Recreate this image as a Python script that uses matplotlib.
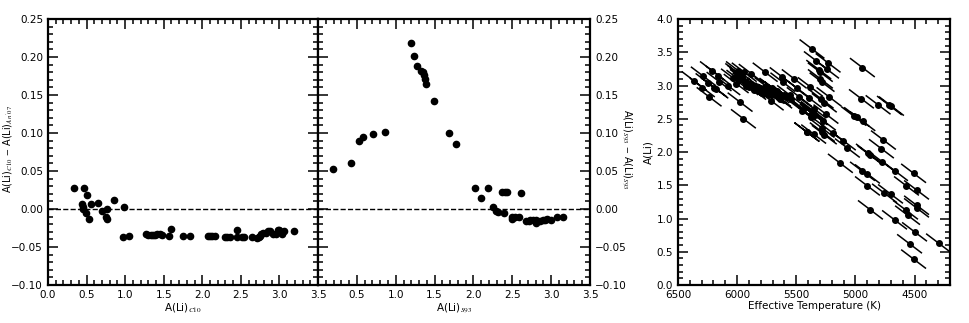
import numpy as np
import matplotlib
matplotlib.use("Agg")
import matplotlib.pyplot as plt
from matplotlib.ticker import MultipleLocator

plt.rcParams['font.family'] = ['DejaVu Sans']
plt.rcParams['mathtext.fontset'] = 'stix'
plt.rcParams['font.size'] = 7.5

# ---- panel 1: A(Li)_C10 vs difference to An'07
c10_x = [0.34, 0.47, 0.51, 0.44, 0.45, 0.45, 0.49, 0.53, 0.56, 0.65, 0.70, 0.75, 0.76,
         0.76, 0.85, 0.99, 0.97, 1.05, 1.27, 1.30, 1.33, 1.36, 1.39, 1.41, 1.45, 1.48,
         1.57, 1.60, 1.75, 1.84, 2.07, 2.10, 2.13, 2.17, 2.29, 2.32, 2.36, 2.45, 2.45,
         2.52, 2.54, 2.64, 2.71, 2.73, 2.75, 2.76, 2.79, 2.82, 2.85, 2.88, 2.92, 2.95,
         2.98, 3.00, 3.03, 3.06, 3.19]
c10_dy = [0.028, 0.028, 0.018, 0.006, 0.003, 0.000, -0.005, -0.013, 0.007, 0.008, -0.002,
          -0.011, -0.013, 0.000, 0.012, 0.002, -0.037, -0.035, -0.033, -0.034, -0.034,
          -0.034, -0.034, -0.033, -0.033, -0.034, -0.035, -0.026, -0.035, -0.035, -0.035,
          -0.036, -0.036, -0.036, -0.037, -0.037, -0.037, -0.027, -0.037, -0.037, -0.037,
          -0.037, -0.038, -0.037, -0.035, -0.033, -0.032, -0.031, -0.029, -0.029, -0.033,
          -0.033, -0.027, -0.027, -0.033, -0.029, -0.029]

# ---- panel 2: A(Li)_S93 vs difference
s93_x = [0.19, 0.43, 0.53, 0.58, 0.71, 0.86, 1.19, 1.24, 1.28, 1.32, 1.35, 1.37, 1.38,
         1.39, 1.49, 1.68, 1.77, 2.02, 2.10, 2.19, 2.37, 2.40, 2.43, 2.61, 2.25, 2.29,
         2.32, 2.39, 2.49, 2.50, 2.53, 2.59, 2.67, 2.71, 2.73, 2.76, 2.80, 2.81, 2.85,
         2.89, 2.92, 2.95, 3.00, 3.07, 3.15]
s93_dy = [0.053, 0.060, 0.090, 0.095, 0.099, 0.101, 0.219, 0.202, 0.188, 0.182, 0.180,
          0.176, 0.171, 0.165, 0.142, 0.100, 0.085, 0.028, 0.015, 0.028, 0.022, 0.022,
          0.022, 0.021, 0.002, -0.002, -0.004, -0.005, -0.011, -0.013, -0.011, -0.011,
          -0.016, -0.016, -0.015, -0.015, -0.018, -0.014, -0.016, -0.015, -0.014, -0.013,
          -0.015, -0.011, -0.011]

# ---- panel 3: Teff vs A(Li)
teff = [6364, 6286, 6294, 6246, 6237, 6209, 6192, 6180, 6158, 6153, 6079, 6031, 6008,
        5995, 5989, 5975, 5985, 5955, 5932, 5926, 5960, 5940, 5910, 5898, 5881, 5975,
        5947, 5870, 5847, 5805, 5763, 5748, 5706, 5720, 5712, 5706, 5663, 5652, 5690,
        5665, 5619, 5613, 5557, 5545, 5517, 5494, 5475, 5441, 5410, 5390, 5381, 5367,
        5353, 5356, 5373, 5365, 5449, 5330, 5297, 5296, 5282, 5231, 5244, 5263, 5223,
        5249, 5271, 5282, 5280, 5263, 5290, 5410, 5187, 5102, 5068, 5127, 5014, 4990,
        4937, 4941, 4949, 4808, 4712, 4695, 4763, 4780, 4890, 4875, 4771, 4940, 4898,
        4661, 4508, 4898, 4568, 4483, 4754, 4703, 4483, 4483, 4873, 4576, 4559, 4669,
        4500, 4542, 4297, 4508, 5880, 5860, 5830, 5790, 5740, 5680, 5640, 5600, 5580,
        5360, 5350, 5340, 5310]
ali = [3.07, 3.14, 2.97, 3.04, 2.83, 3.22, 2.97, 2.95, 3.15, 3.06, 3.00, 3.11, 3.03,
       3.19, 3.22, 3.16, 3.09, 3.10, 3.05, 3.00, 3.13, 3.20, 3.02, 2.98, 3.18, 2.75,
       2.50, 2.96, 2.98, 2.97, 3.20, 2.98, 2.87, 2.88, 2.77, 2.97, 2.88, 2.83, 2.94,
       2.92, 3.13, 3.05, 2.86, 2.79, 3.10, 2.96, 2.83, 2.63, 2.30, 2.81, 2.98, 3.55,
       2.27, 2.62, 2.53, 2.58, 2.62, 3.37, 3.20, 3.10, 3.05, 3.34, 3.25, 2.74, 2.83,
       2.57, 2.47, 2.36, 2.30, 2.26, 2.80, 2.30, 2.28, 2.17, 2.06, 1.83, 2.54, 2.53,
       2.46, 3.27, 2.80, 2.71, 2.70, 2.69, 2.18, 2.05, 1.98, 1.95, 1.85, 1.71, 1.67,
       1.71, 1.68, 1.49, 1.49, 1.43, 1.38, 1.37, 1.20, 1.16, 1.13, 1.13, 1.05, 0.98,
       0.80, 0.62, 0.63, 0.39, 3.02, 2.93, 2.95, 2.92, 2.90, 2.86, 2.80, 2.86, 2.82,
       2.60, 2.65, 2.55, 3.24]
# correlated error: +-100 K goes with +-0.135 dex
err_t = 100
err_a = 0.135

fig = plt.figure(figsize=(9.69, 3.23), dpi=100)
ax1 = fig.add_axes([0.0495, 0.1176, 0.2787, 0.8235])
ax2 = fig.add_axes([0.3282, 0.1176, 0.2807, 0.8235])
ax3 = fig.add_axes([0.6997, 0.1176, 0.2807, 0.8235])


def style(ax):
    for s in ax.spines.values():
        s.set_linewidth(1.6)
    ax.tick_params(which='both', direction='in', top=True, right=True, width=1.1)
    ax.tick_params(which='major', length=7)
    ax.tick_params(which='minor', length=3.5)


ax1.plot(c10_x, c10_dy, 'o', color='black', ms=4.5)
ax1.axhline(0, color='black', ls='--', lw=1)
ax1.set_xlim(0, 3.5)
ax1.set_ylim(-0.10, 0.25)
ax1.xaxis.set_major_locator(MultipleLocator(0.5))
ax1.xaxis.set_minor_locator(MultipleLocator(0.1))
ax1.yaxis.set_major_locator(MultipleLocator(0.05))
ax1.yaxis.set_minor_locator(MultipleLocator(0.01))
ax1.set_xlabel("A(Li)$_{C10}$", labelpad=1)
ax1.set_ylabel("A(Li)$_{C10}$ $-$ A(Li)$_{An'07}$", fontsize=7)
ax1.yaxis.set_label_coords(-0.125, 0.51)
style(ax1)

ax2.plot(s93_x, s93_dy, 'o', color='black', ms=4.5)
ax2.axhline(0, color='black', ls='--', lw=1)
ax2.set_xlim(0, 3.5)
ax2.set_ylim(-0.10, 0.25)
ax2.xaxis.set_major_locator(MultipleLocator(0.5))
ax2.xaxis.set_minor_locator(MultipleLocator(0.1))
ax2.yaxis.set_major_locator(MultipleLocator(0.05))
ax2.yaxis.set_minor_locator(MultipleLocator(0.01))
style(ax2)
ax2.tick_params(labelleft=False, labelright=True)
ax2.set_xticks([0.5, 1.0, 1.5, 2.0, 2.5, 3.0, 3.5])
ax2.set_xlabel("A(Li)$_{S93}$", labelpad=1)
ax2.yaxis.set_label_position('right')
ax2.set_ylabel("A(Li)$_{S93}$ $-$ A(Li)$_{S93}$", rotation=270, fontsize=7)
ax2.yaxis.set_label_coords(1.16, 0.51)

# correlated error bars as slanted segments
seg_x = []
seg_y = []
for t, a in zip(teff, ali):
    seg_x += [t + err_t, t - err_t, np.nan]
    seg_y += [a + err_a, a - err_a, np.nan]
ax3.plot(seg_x, seg_y, '-', color='black', lw=1.1)
ax3.plot(teff, ali, 'o', color='black', ms=4)
ax3.set_xlim(6500, 4200)
ax3.set_ylim(0, 4.0)
ax3.xaxis.set_major_locator(MultipleLocator(500))
ax3.xaxis.set_minor_locator(MultipleLocator(100))
ax3.yaxis.set_major_locator(MultipleLocator(0.5))
ax3.yaxis.set_minor_locator(MultipleLocator(0.1))
ax3.set_xlabel("Effective Temperature (K)", labelpad=1)
ax3.set_ylabel("A(Li)", labelpad=2)
style(ax3)

fig.savefig("out.png", dpi=100)
